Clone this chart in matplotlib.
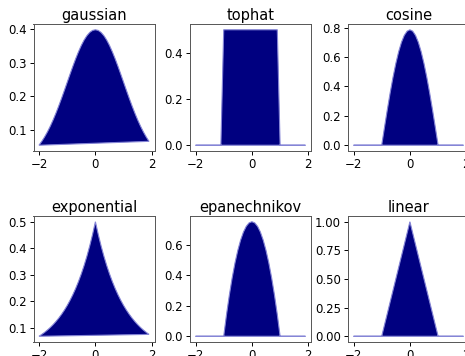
import matplotlib
matplotlib.use("Agg")
import matplotlib.pyplot as plt

x = [-2.0, -1.9, -1.8, -1.7, -1.6, -1.5, -1.4, -1.3, -1.2, -1.1,
     -1.0, -0.9, -0.8, -0.7, -0.6, -0.5, -0.4, -0.3, -0.2, -0.1,
     0.0, 0.1, 0.2, 0.3, 0.4, 0.5, 0.6, 0.7, 0.8, 0.9,
     1.0, 1.1, 1.2, 1.3, 1.4, 1.5, 1.6, 1.7, 1.8, 1.9]

gaussian = [0.0540, 0.0656, 0.0790, 0.0940, 0.1109, 0.1295, 0.1497, 0.1714, 0.1942, 0.2179,
            0.2420, 0.2661, 0.2897, 0.3123, 0.3332, 0.3521, 0.3683, 0.3814, 0.3910, 0.3970,
            0.3989, 0.3970, 0.3910, 0.3814, 0.3683, 0.3521, 0.3332, 0.3123, 0.2897, 0.2661,
            0.2420, 0.2179, 0.1942, 0.1714, 0.1497, 0.1295, 0.1109, 0.0940, 0.0790, 0.0656]

tophat = [0, 0, 0, 0, 0, 0, 0, 0, 0, 0,
          0.5, 0.5, 0.5, 0.5, 0.5, 0.5, 0.5, 0.5, 0.5, 0.5,
          0.5, 0.5, 0.5, 0.5, 0.5, 0.5, 0.5, 0.5, 0.5, 0.5,
          0, 0, 0, 0, 0, 0, 0, 0, 0, 0]

cosine = [0, 0, 0, 0, 0, 0, 0, 0, 0, 0,
          0.0, 0.1229, 0.2427, 0.3566, 0.4616, 0.5554, 0.6354, 0.6998, 0.7470, 0.7757,
          0.7854, 0.7757, 0.7470, 0.6998, 0.6354, 0.5554, 0.4616, 0.3566, 0.2427, 0.1229,
          0.0, 0, 0, 0, 0, 0, 0, 0, 0, 0]

exponential = [0.0677, 0.0748, 0.0826, 0.0913, 0.1009, 0.1116, 0.1233, 0.1363, 0.1506, 0.1664,
               0.1839, 0.2033, 0.2247, 0.2483, 0.2744, 0.3033, 0.3352, 0.3704, 0.4094, 0.4524,
               0.5000, 0.4524, 0.4094, 0.3704, 0.3352, 0.3033, 0.2744, 0.2483, 0.2247, 0.2033,
               0.1839, 0.1664, 0.1506, 0.1363, 0.1233, 0.1116, 0.1009, 0.0913, 0.0826, 0.0748]

epanechnikov = [0, 0, 0, 0, 0, 0, 0, 0, 0, 0,
                0.0, 0.1425, 0.2700, 0.3825, 0.4800, 0.5625, 0.6300, 0.6825, 0.7200, 0.7425,
                0.7500, 0.7425, 0.7200, 0.6825, 0.6300, 0.5625, 0.4800, 0.3825, 0.2700, 0.1425,
                0.0, 0, 0, 0, 0, 0, 0, 0, 0, 0]

linear = [0, 0, 0, 0, 0, 0, 0, 0, 0, 0,
          0.0, 0.1, 0.2, 0.3, 0.4, 0.5, 0.6, 0.7, 0.8, 0.9,
          1.0, 0.9, 0.8, 0.7, 0.6, 0.5, 0.4, 0.3, 0.2, 0.1,
          0.0, 0, 0, 0, 0, 0, 0, 0, 0, 0]

names = ["gaussian", "tophat", "cosine", "exponential", "epanechnikov", "linear"]
series = [gaussian, tophat, cosine, exponential, epanechnikov, linear]

W, H = 465, 356
fig = plt.figure(figsize=(W / 100, H / 100), dpi=100)

col_left = [33.5, 190, 348]
row_top = [24, 216]
aw = 121
row_h = [127, 126]

for i, (name, y) in enumerate(zip(names, series)):
    r, c = divmod(i, 3)
    l = col_left[c]
    t = row_top[r]
    ah = row_h[r]
    ax = fig.add_axes([l / W, 1 - (t + ah) / H, aw / W, ah / H])
    ax.fill(x, y, facecolor="navy", edgecolor="#8585d6", linewidth=0.8)
    ax.set_title(name, fontsize=10.5, pad=3)
    ax.tick_params(labelsize=8.5, length=3, width=0.7, pad=2)
    for s in ax.spines.values():
        s.set_linewidth(0.7)
        s.set_color("#555555")

fig.savefig("out.png", dpi=100)
